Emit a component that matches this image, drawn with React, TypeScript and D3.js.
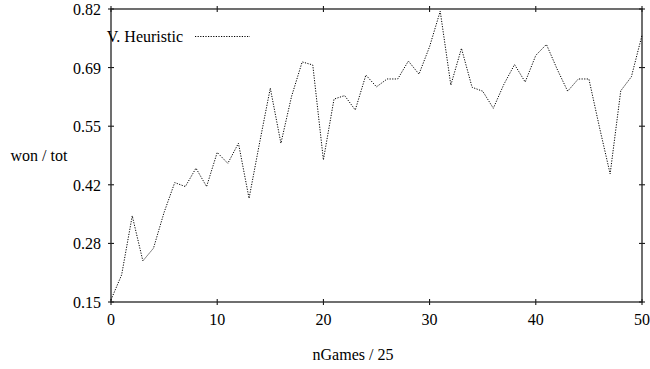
import React from "react";
import * as d3 from "d3";

const xValues = d3.range(0, 51);
const winRatio = [
  0.155, 0.212, 0.347, 0.244, 0.273, 0.355, 0.423, 0.414, 0.456, 0.414,
  0.492, 0.467, 0.513, 0.387, 0.515, 0.639, 0.513, 0.62, 0.699, 0.692,
  0.475, 0.614, 0.622, 0.589, 0.669, 0.642, 0.66, 0.66, 0.701, 0.671,
  0.734, 0.815, 0.646, 0.73, 0.641, 0.632, 0.593, 0.648, 0.693, 0.653,
  0.714, 0.739, 0.683, 0.632, 0.66, 0.66, 0.549, 0.443, 0.633, 0.665,
  0.76,
];
const xTicks = [0, 10, 20, 30, 40, 50];
const yTicks = [0.15, 0.284, 0.418, 0.552, 0.686, 0.82];
const seriesName = "V. Heuristic";
const xLabel = "nGames / 25";
const yLabel = "won / tot";

export default function App() {
  const W = 650, H = 369;
  const left = 111, right = 642, top = 9, bottom = 302;
  const x = d3.scaleLinear().domain([0, 50]).range([left, right]);
  const y = d3.scaleLinear().domain([0.15, 0.82]).range([bottom, top]);
  const line = d3
    .line<number>()
    .x((_, i) => x(xValues[i]))
    .y((d) => y(d));
  const fs = 16;
  const tl = 3;
  const txt = { fontFamily: "'Liberation Serif', 'Times New Roman', serif", fontSize: fs };
  return (
    <svg
      width={W}
      height={H}
      style={{ position: "absolute", left: 0, top: 0, background: "#fff" }}
    >
      <rect x={0} y={0} width={W} height={H} fill="#fff" />
      {xTicks.map((t) => (
        <g key={"x" + t}>
          <line x1={x(t)} x2={x(t)} y1={bottom - tl} y2={bottom + tl} stroke="#000" strokeWidth={1} />
          <line x1={x(t)} x2={x(t)} y1={top - tl} y2={top + tl} stroke="#000" strokeWidth={1} />
          <text x={x(t)} y={bottom + 23} textAnchor="middle" fill="#000" style={txt}>
            {t}
          </text>
        </g>
      ))}
      {yTicks.map((t) => (
        <g key={"y" + t}>
          <line x1={left - tl} x2={left + tl} y1={y(t)} y2={y(t)} stroke="#000" strokeWidth={1} />
          <line x1={right - tl} x2={right + tl} y1={y(t)} y2={y(t)} stroke="#000" strokeWidth={1} />
          <text x={left - 10} y={y(t) + 6} textAnchor="end" fill="#000" style={txt}>
            {t.toFixed(2)}
          </text>
        </g>
      ))}
      <rect
        x={left}
        y={top}
        width={right - left}
        height={bottom - top}
        fill="none"
        stroke="#222"
        strokeWidth={1.3}
      />
      <path
        d={line(winRatio) || ""}
        fill="none"
        stroke="#000"
        strokeWidth={1}
        strokeDasharray="1.2,1.4"
      />
      <text x={183} y={42} textAnchor="end" fill="#000" style={txt}>
        {seriesName}
      </text>
      <line x1={195} x2={250} y1={36.5} y2={36.5} stroke="#000" strokeWidth={1} strokeDasharray="1.2,1.4" />
      <text x={39} y={161} textAnchor="middle" fill="#000" style={txt}>
        {yLabel}
      </text>
      <text x={353} y={360} textAnchor="middle" fill="#000" style={txt}>
        {xLabel}
      </text>
    </svg>
  );
}
